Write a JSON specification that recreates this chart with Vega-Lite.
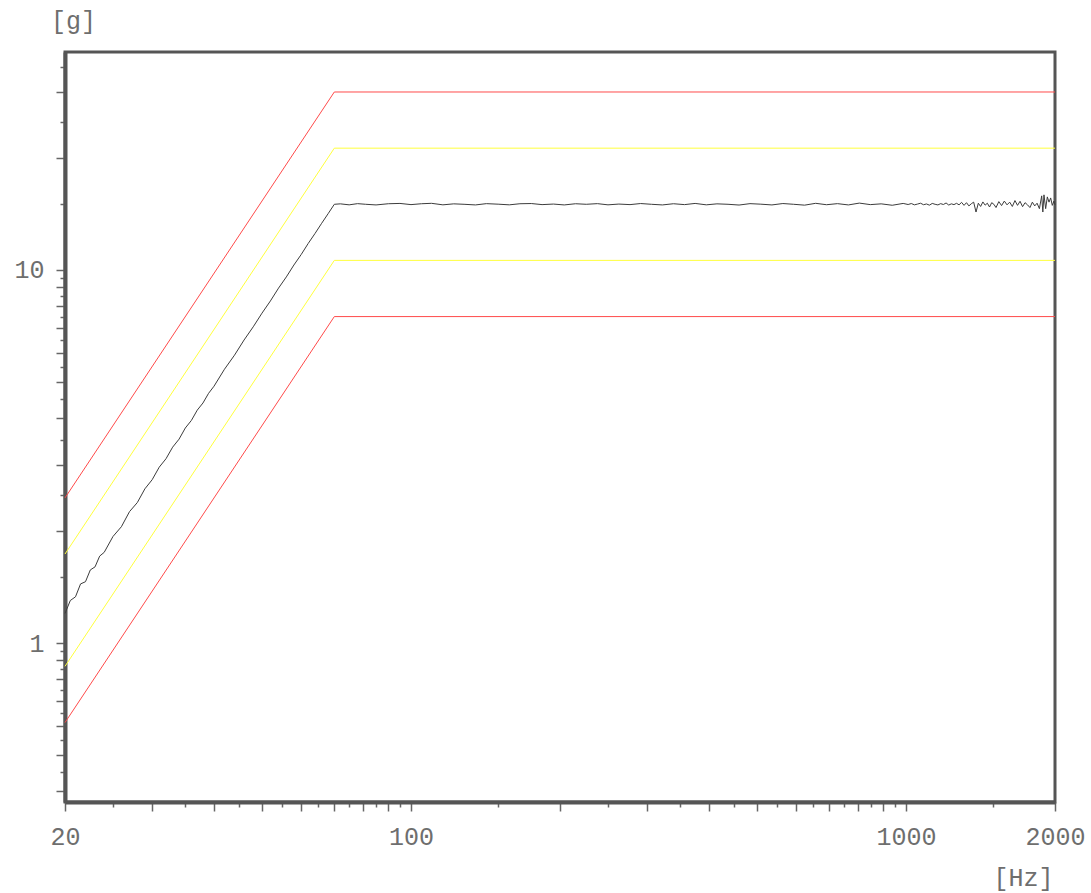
{
  "$schema": "https://vega.github.io/schema/vega-lite/v6.json",
  "width": 990,
  "height": 750,
  "autosize": {"type": "none"},
  "padding": {"left": 65, "top": 52, "right": 36, "bottom": 91},
  "background": "white",
  "config": {
    "view": {"stroke": "#555555", "strokeWidth": 3},
    "axis": {
      "grid": false,
      "domainColor": "#555555",
      "domainWidth": 4,
      "tickColor": "#666666",
      "tickWidth": 1.5,
      "labelFont": "Liberation Mono",
      "labelFontSize": 25,
      "labelColor": "#6e6e6e",
      "titleFont": "Liberation Mono",
      "titleFontSize": 25,
      "titleFontWeight": "normal",
      "titleColor": "#6e6e6e",
      "labelOverlap": false,
      "labelFlush": false
    }
  },
  "datasets": {
    "limits": [
      {"series": "+6dB", "f": 20, "g": 2.449},
      {"series": "+6dB", "f": 70, "g": 30},
      {"series": "+6dB", "f": 2000, "g": 30},
      {"series": "+3dB", "f": 20, "g": 1.732},
      {"series": "+3dB", "f": 70, "g": 21.21},
      {"series": "+3dB", "f": 2000, "g": 21.21},
      {"series": "-3dB", "f": 20, "g": 0.866},
      {"series": "-3dB", "f": 70, "g": 10.61},
      {"series": "-3dB", "f": 2000, "g": 10.61},
      {"series": "-6dB", "f": 20, "g": 0.612},
      {"series": "-6dB", "f": 70, "g": 7.5},
      {"series": "-6dB", "f": 2000, "g": 7.5}
    ],
    "measured": [
      {"f": 20, "g": 1.20}, {"f": 20.5, "g": 1.30}, {"f": 21, "g": 1.33}, {"f": 21.5, "g": 1.44},
      {"f": 22, "g": 1.46}, {"f": 22.5, "g": 1.57}, {"f": 23, "g": 1.60}, {"f": 23.5, "g": 1.71},
      {"f": 24, "g": 1.75}, {"f": 25, "g": 1.93}, {"f": 26, "g": 2.05}, {"f": 27, "g": 2.25},
      {"f": 28, "g": 2.38}, {"f": 29, "g": 2.59}, {"f": 30, "g": 2.74}, {"f": 31, "g": 2.96},
      {"f": 32, "g": 3.12}, {"f": 33, "g": 3.35}, {"f": 34, "g": 3.52}, {"f": 35, "g": 3.77},
      {"f": 36, "g": 3.95}, {"f": 37, "g": 4.21}, {"f": 38, "g": 4.40}, {"f": 39, "g": 4.67},
      {"f": 40, "g": 4.88}, {"f": 42, "g": 5.42}, {"f": 44, "g": 5.91}, {"f": 46, "g": 6.49},
      {"f": 48, "g": 7.04}, {"f": 50, "g": 7.66}, {"f": 52, "g": 8.26}, {"f": 54, "g": 8.94},
      {"f": 56, "g": 9.58}, {"f": 58, "g": 10.31}, {"f": 60, "g": 11.0}, {"f": 62, "g": 11.78},
      {"f": 64, "g": 12.53}, {"f": 66, "g": 13.34}, {"f": 68, "g": 14.15}, {"f": 70, "g": 15.0},
      {"f": 72, "g": 15.04}, {"f": 75, "g": 14.95}, {"f": 78, "g": 15.06}, {"f": 81, "g": 15.00},
      {"f": 85, "g": 14.94}, {"f": 90, "g": 15.05}, {"f": 95, "g": 15.08}, {"f": 100, "g": 14.97},
      {"f": 105, "g": 15.05}, {"f": 110, "g": 15.09}, {"f": 116, "g": 14.95}, {"f": 122, "g": 15.04},
      {"f": 128, "g": 15.00}, {"f": 135, "g": 14.94}, {"f": 142, "g": 15.06}, {"f": 150, "g": 15.01},
      {"f": 158, "g": 14.95}, {"f": 166, "g": 15.05}, {"f": 175, "g": 15.07}, {"f": 184, "g": 14.97},
      {"f": 194, "g": 15.02}, {"f": 204, "g": 14.94}, {"f": 215, "g": 15.05}, {"f": 226, "g": 15.00},
      {"f": 238, "g": 15.06}, {"f": 250, "g": 14.95}, {"f": 263, "g": 15.02}, {"f": 277, "g": 14.97},
      {"f": 291, "g": 15.07}, {"f": 306, "g": 15.00}, {"f": 322, "g": 14.94}, {"f": 339, "g": 15.05},
      {"f": 357, "g": 14.97}, {"f": 375, "g": 15.08}, {"f": 395, "g": 14.95}, {"f": 415, "g": 15.04},
      {"f": 437, "g": 15.00}, {"f": 460, "g": 14.93}, {"f": 484, "g": 15.06}, {"f": 509, "g": 15.01},
      {"f": 536, "g": 14.94}, {"f": 564, "g": 15.07}, {"f": 593, "g": 15.00}, {"f": 624, "g": 14.92},
      {"f": 657, "g": 15.09}, {"f": 691, "g": 14.96}, {"f": 727, "g": 15.06}, {"f": 765, "g": 14.94},
      {"f": 805, "g": 15.11}, {"f": 847, "g": 14.97}, {"f": 891, "g": 15.04}, {"f": 938, "g": 14.91},
      {"f": 987, "g": 15.08}, {"f": 1010, "g": 14.98}, {"f": 1025, "g": 15.07}, {"f": 1040, "g": 14.95},
      {"f": 1055, "g": 15.02}, {"f": 1070, "g": 15.10}, {"f": 1085, "g": 14.96}, {"f": 1100, "g": 15.03},
      {"f": 1115, "g": 14.92}, {"f": 1130, "g": 15.08}, {"f": 1145, "g": 15.00}, {"f": 1160, "g": 14.94},
      {"f": 1175, "g": 15.06}, {"f": 1190, "g": 14.98}, {"f": 1205, "g": 15.12}, {"f": 1220, "g": 14.93},
      {"f": 1235, "g": 15.04}, {"f": 1250, "g": 14.97}, {"f": 1265, "g": 15.09}, {"f": 1280, "g": 14.95},
      {"f": 1295, "g": 15.18}, {"f": 1310, "g": 14.90}, {"f": 1325, "g": 15.15}, {"f": 1340, "g": 14.85},
      {"f": 1355, "g": 15.05}, {"f": 1370, "g": 15.20}, {"f": 1385, "g": 14.30}, {"f": 1400, "g": 15.10},
      {"f": 1415, "g": 14.80}, {"f": 1430, "g": 15.22}, {"f": 1445, "g": 14.92}, {"f": 1460, "g": 15.10},
      {"f": 1475, "g": 14.75}, {"f": 1490, "g": 15.15}, {"f": 1505, "g": 15.00}, {"f": 1520, "g": 14.70},
      {"f": 1540, "g": 15.25}, {"f": 1560, "g": 14.88}, {"f": 1580, "g": 15.30}, {"f": 1600, "g": 14.95},
      {"f": 1620, "g": 15.20}, {"f": 1640, "g": 14.80}, {"f": 1660, "g": 15.35}, {"f": 1680, "g": 14.90},
      {"f": 1700, "g": 15.28}, {"f": 1720, "g": 14.78}, {"f": 1740, "g": 15.15}, {"f": 1760, "g": 14.95},
      {"f": 1780, "g": 14.70}, {"f": 1800, "g": 15.20}, {"f": 1820, "g": 14.85}, {"f": 1840, "g": 15.10},
      {"f": 1860, "g": 14.60}, {"f": 1880, "g": 15.80}, {"f": 1890, "g": 14.30}, {"f": 1900, "g": 15.90},
      {"f": 1915, "g": 14.60}, {"f": 1930, "g": 15.70}, {"f": 1945, "g": 15.20}, {"f": 1960, "g": 15.60},
      {"f": 1975, "g": 14.90}, {"f": 1990, "g": 15.30}, {"f": 2000, "g": 14.95}
    ]
  },
  "encoding": {
    "x": {
      "field": "f",
      "type": "quantitative",
      "scale": {"type": "log", "domain": [20, 2000], "nice": false},
      "axis": {
        "title": "[Hz]",
        "titleX": 958,
        "titleY": 75,
        "titleAlign": "center",
        "titleBaseline": "middle",
        "values": [20, 25, 30, 35, 40, 45, 50, 55, 60, 65, 70, 75, 80, 85, 90, 95, 100, 150, 200, 250, 300, 350, 400, 450, 500, 550, 600, 650, 700, 750, 800, 850, 900, 950, 1000, 1500, 2000],
        "labelExpr": "indexof([20, 100, 1000, 2000], datum.value) >= 0 ? datum.value : ''",
        "labelPadding": 13,
        "tickSize": {"condition": {"test": "indexof([20,30,40,50,60,70,80,90,100,200,300,400,500,600,700,800,900,1000,2000], datum.value) >= 0", "value": 9}, "value": 5}
      }
    },
    "y": {
      "field": "g",
      "type": "quantitative",
      "scale": {"type": "log", "domain": [0.3748, 38.4], "nice": false},
      "axis": {
        "title": "[g]",
        "titleAngle": 0,
        "titleX": 8,
        "titleY": -32,
        "titleAlign": "center",
        "titleBaseline": "middle",
        "values": [0.4, 0.45, 0.5, 0.55, 0.6, 0.65, 0.7, 0.75, 0.8, 0.85, 0.9, 0.95, 1, 1.5, 2, 2.5, 3, 3.5, 4, 4.5, 5, 5.5, 6, 6.5, 7, 7.5, 8, 8.5, 9, 9.5, 10, 15, 20, 25, 30, 35],
        "labelExpr": "indexof([1, 10], datum.value) >= 0 ? datum.value : ''",
        "labelPadding": 12,
        "tickSize": {"condition": {"test": "indexof([0.4,0.5,0.6,0.7,0.8,0.9,1,2,3,4,5,6,7,8,9,10,20,30], datum.value) >= 0", "value": 9}, "value": 5}
      }
    }
  },
  "layer": [
    {
      "data": {"name": "limits"},
      "mark": {"type": "line", "strokeWidth": 1},
      "encoding": {
        "detail": {"field": "series", "type": "nominal"},
        "color": {
          "field": "series",
          "type": "nominal",
          "scale": {"domain": ["+6dB", "+3dB", "-3dB", "-6dB"], "range": ["#ff4a4a", "#ffff3c", "#ffff3c", "#ff4a4a"]},
          "legend": null
        }
      }
    },
    {
      "data": {"name": "measured"},
      "mark": {"type": "line", "strokeWidth": 1, "color": "#3c3c3c"},
      "encoding": {}
    }
  ]
}
